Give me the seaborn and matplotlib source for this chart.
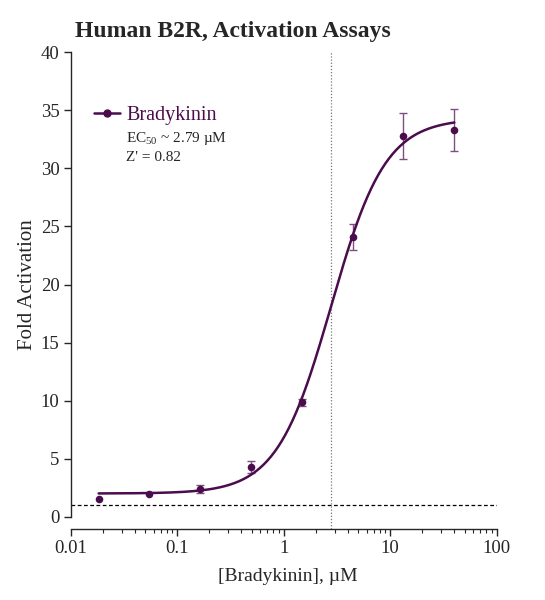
import numpy as np
import pandas as pd
import matplotlib
matplotlib.use('Agg')
import matplotlib.pyplot as plt
import seaborn as sns
from matplotlib.lines import Line2D
from matplotlib.ticker import FixedLocator, LogLocator, NullFormatter

# measured points (3-fold dilution from 40 uM)
conc = [0.0183, 0.0549, 0.165, 0.494, 1.48, 4.44, 13.3, 40.0]
fold = [1.5, 1.96, 2.39, 4.26, 9.86, 24.1, 32.8, 33.3]
sem = [0.0, 0.0, 0.35, 0.5, 0.3, 1.15, 2.0, 1.8]

# 4PL fit parameters shown on the chart
fit_bottom = 2.0
fit_top = 34.3
fit_ec50 = 2.79
fit_hill = 1.7

xtick_vals = [0.01, 0.1, 1, 10, 100]
xtick_labels = ['0.01', '0.1', '1', '10', '100']
ytick_vals = [0, 5, 10, 15, 20, 25, 30, 35, 40]

PURPLE = '#4b0c4d'
ERR = '#7d4f80'

sns.set_style('ticks')
plt.rcParams['font.family'] = ['Liberation Serif', 'DejaVu Serif']
plt.rcParams['mathtext.fontset'] = 'custom'
plt.rcParams['mathtext.rm'] = 'Liberation Serif'

df = pd.DataFrame({'conc': conc, 'fold': fold, 'sem': sem})
xs = np.logspace(np.log10(conc[0]), np.log10(conc[-1]), 300)
curve = pd.DataFrame({
    'conc': xs,
    'fold': fit_bottom + (fit_top - fit_bottom) / (1 + (fit_ec50 / xs) ** fit_hill),
})

fig = plt.figure(figsize=(5.45, 6.0), dpi=100)
ax = fig.add_axes([0.1297, 0.1183, 0.7817, 0.7945])

err = df[df['sem'] > 0]
ax.errorbar(err['conc'], err['fold'], yerr=err['sem'], fmt='none', ecolor=ERR,
            elinewidth=1.0, capsize=2.8, capthick=1.0, zorder=2)
sns.lineplot(data=curve, x='conc', y='fold', color=PURPLE, linewidth=1.8, ax=ax, zorder=3)
sns.scatterplot(data=df, x='conc', y='fold', color=PURPLE, s=30, edgecolor=PURPLE,
                linewidth=0, ax=ax, zorder=4)

ax.axhline(1, color='black', linestyle=(0, (3, 2)), linewidth=0.9, zorder=1)
ax.axvline(fit_ec50, color='#777777', linestyle=(0, (1, 1.5)), linewidth=0.9, zorder=1)

ax.set_xscale('log')
ax.set_xlim(0.01, 100)
ax.set_ylim(-1.06, 40)
ax.xaxis.set_major_locator(FixedLocator(xtick_vals))
ax.set_xticklabels(xtick_labels)
ax.xaxis.set_minor_locator(LogLocator(base=10, subs=np.arange(2, 10)))
ax.xaxis.set_minor_formatter(NullFormatter())
ax.set_yticks(ytick_vals)
ax.set_yticklabels([str(v) for v in ytick_vals])

sns.despine(ax=ax)
ax.spines['left'].set_bounds(0, 40)
ax.spines['left'].set_linewidth(1.0)
ax.spines['bottom'].set_linewidth(1.0)
ax.tick_params(axis='both', which='major', labelsize=13.5, length=5, width=1.0,
               direction='out', pad=3)
ax.tick_params(axis='x', which='minor', length=3, width=0.8)

ax.set_xlabel('[Bradykinin], µM', fontsize=14)
ax.set_ylabel('Fold Activation', fontsize=15)
ax.xaxis.set_label_coords(0.51, -0.082)
ax.yaxis.set_label_coords(-0.078, 21.06 / 41.06)
fig.text(0.138, 0.948, 'Human B2R, Activation Assays', fontsize=17, fontweight='bold',
         ha='left', va='center')

handle = Line2D([0], [0], color=PURPLE, linewidth=1.8, marker='o', markersize=5)
leg = ax.legend([handle], ['Bradykinin'], loc='upper left', bbox_to_anchor=(0.055, 0.888),
                frameon=False, fontsize=14.5, handlelength=1.3, handletextpad=0.3,
                borderaxespad=0, borderpad=0)
for t in leg.get_texts():
    t.set_color(PURPLE)
ax.text(0.13, 0.82, r'EC$_{50}$ ~ 2.79 µM', transform=ax.transAxes, fontsize=11,
        ha='left', va='center')
ax.text(0.13, 0.78, "Z' = 0.82", transform=ax.transAxes, fontsize=11,
        ha='left', va='center')

fig.savefig('out.png', dpi=100)
